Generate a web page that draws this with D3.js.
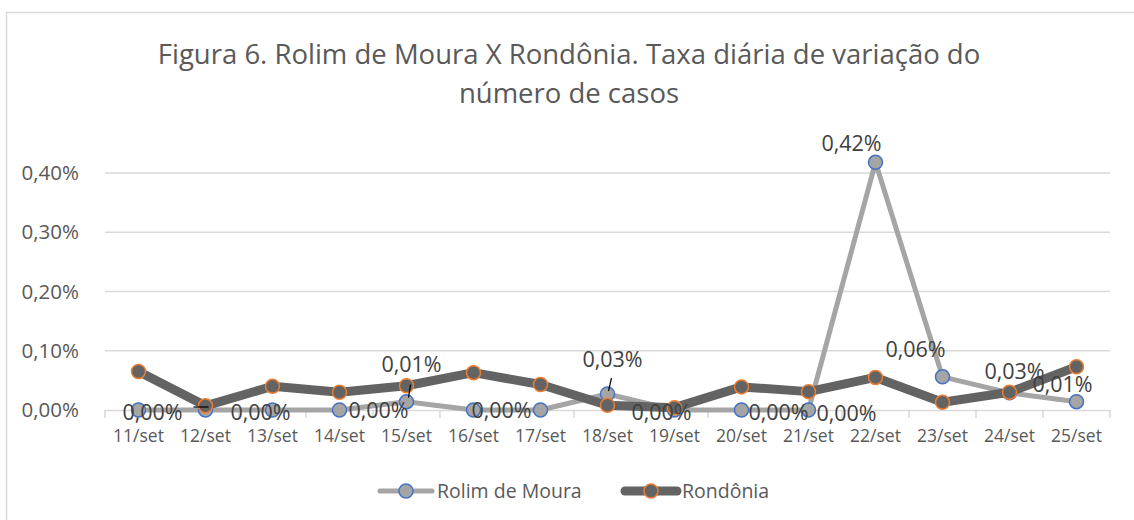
<!DOCTYPE html>
<html>
<head>
<meta charset="utf-8">
<script src="https://cdn.jsdelivr.net/npm/d3@7"></script>
<style>
  body { margin: 0; background: #fff; }
  svg text { font-family: "Open Sans", "Noto Sans", sans-serif; }
</style>
</head>
<body>
<div id="chart"></div>
<script>
// dias e taxas (em %)
const dias = ['11/set','12/set','13/set','14/set','15/set','16/set','17/set','18/set','19/set','20/set','21/set','22/set','23/set','24/set','25/set'];
const rolim = [0, 0, 0, 0, 0.014, 0, 0, 0.027, 0, 0, 0, 0.418, 0.056, 0.029, 0.014];
const rondonia = [0.065, 0.007, 0.040, 0.030, 0.041, 0.063, 0.043, 0.008, 0.004, 0.039, 0.031, 0.055, 0.013, 0.030, 0.073];
const yTicks = [0, 0.1, 0.2, 0.3, 0.4];

// label offsets (Excel labels were dragged around by hand), null = hidden
const labelPos = [
  [14, 2], null, [-12, 2], [39, 0], [5, -37], [28, 0], null, [5, -35],
  [-13, 2], [37, 2], [38, 3], [-24, -19], [-27, -27], [5, -21], [-14, -17]
];

const W = 1134, H = 520;
const x0 = 105, x1 = 1110, yBase = 410, yTop = 173;

const svg = d3.select('#chart').append('svg')
  .attr('width', W).attr('height', H);

svg.append('rect')
  .attr('x', 6.5).attr('y', 12.5)
  .attr('width', W + 10).attr('height', H + 10)
  .attr('fill', '#fff').attr('stroke', '#d9d9d9').attr('stroke-width', 1.5);

const x = d3.scaleBand().domain(dias).range([x0, x1]);
const y = d3.scaleLinear().domain([0, 0.4]).range([yBase, yTop]);
const fmt = v => v.toFixed(2).replace('.', ',') + '%';

// title
const title = svg.append('text')
  .attr('text-anchor', 'middle')
  .attr('font-size', 27.5)
  .attr('fill', '#595959');
title.append('tspan').attr('x', 569).attr('y', 64)
  .text('Figura 6. Rolim de Moura X Rondônia. Taxa diária de variação do');
title.append('tspan').attr('x', 569).attr('y', 103)
  .text('número de casos');

// gridlines
svg.append('g')
  .selectAll('line')
  .data(yTicks.slice(1))
  .join('line')
  .attr('x1', x0).attr('x2', x1)
  .attr('y1', d => y(d)).attr('y2', d => y(d))
  .attr('stroke', '#d9d9d9').attr('stroke-width', 1.5);

// y axis labels
const yAxis = svg.append('g')
  .attr('transform', `translate(${x0 - 23},0)`)
  .call(d3.axisLeft(y).tickValues(yTicks).tickFormat(fmt).tickSize(0));
yAxis.select('.domain').remove();
yAxis.selectAll('text')
  .attr('font-size', 20.5)
  .attr('fill', '#595959')
  .attr('font-family', '"Open Sans", sans-serif');

// x axis
const xAxis = svg.append('g')
  .attr('transform', `translate(0,${yBase})`)
  .call(d3.axisBottom(x).tickSize(0).tickPadding(20));
xAxis.select('.domain').attr('stroke', '#d9d9d9').attr('stroke-width', 1.5);
xAxis.selectAll('text')
  .attr('font-size', 17.5)
  .attr('fill', '#595959')
  .attr('font-family', '"Open Sans", sans-serif');
xAxis.append('g')
  .selectAll('line')
  .data(d3.range(dias.length + 1))
  .join('line')
  .attr('x1', i => x0 + i * x.step()).attr('x2', i => x0 + i * x.step())
  .attr('y1', 0).attr('y2', 8)
  .attr('stroke', '#d9d9d9').attr('stroke-width', 1.5);

const cx = i => x(dias[i]) + x.bandwidth() / 2;
const line = d3.line().x((d, i) => cx(i)).y(d => y(d));

const series = [
  {name: 'Rolim de Moura', values: rolim, color: '#a5a5a5', edge: '#4472c4', width: 5},
  {name: 'Rondônia', values: rondonia, color: '#636363', edge: '#ed7d31', width: 9}
];

series.forEach(s => {
  svg.append('path')
    .datum(s.values)
    .attr('d', line)
    .attr('fill', 'none')
    .attr('stroke', s.color)
    .attr('stroke-width', s.width)
    .attr('stroke-linejoin', 'round')
    .attr('stroke-linecap', 'round');
  svg.append('g')
    .selectAll('circle')
    .data(s.values)
    .join('circle')
    .attr('cx', (d, i) => cx(i))
    .attr('cy', d => y(d))
    .attr('r', 7)
    .attr('fill', s.color)
    .attr('stroke', s.edge)
    .attr('stroke-width', 1.5);
});

// leader lines
const leaders = [[4, 4, -17, 2, -4], [7, 4, -16, 1, -3]];
leaders.forEach(([i, dx1, dy1, dx2, dy2]) => {
  svg.append('line')
    .attr('x1', cx(i) + dx1).attr('y1', y(rolim[i]) + dy1)
    .attr('x2', cx(i) + dx2).attr('y2', y(rolim[i]) + dy2)
    .attr('stroke', '#000').attr('stroke-width', 1.2);
});
svg.append('line')
  .attr('x1', cx(1) - 12).attr('x2', cx(1) + 3)
  .attr('y1', y(0) - 3).attr('y2', y(0) - 3)
  .attr('stroke', '#000').attr('stroke-width', 1.2);

// data labels
svg.append('g')
  .selectAll('text')
  .data(rolim.map((v, i) => ({v, i, p: labelPos[i]})).filter(d => d.p))
  .join('text')
  .attr('x', d => cx(d.i) + d.p[0])
  .attr('y', d => y(d.v) + d.p[1])
  .attr('dy', '0.35em')
  .attr('text-anchor', 'middle')
  .attr('font-size', 21.5)
  .attr('fill', '#404040')
  .text(d => fmt(d.v));

// legend
const legend = svg.append('g').attr('transform', 'translate(0,491)');
const legendX = [377, 622];
series.forEach((s, k) => {
  const g = legend.append('g').attr('transform', `translate(${legendX[k]},0)`);
  g.append('line')
    .attr('x1', 3).attr('x2', 55)
    .attr('stroke', s.color).attr('stroke-width', s.width)
    .attr('stroke-linecap', 'round');
  g.append('circle')
    .attr('cx', 29).attr('r', 7)
    .attr('fill', s.color).attr('stroke', s.edge).attr('stroke-width', 1.5);
  g.append('text')
    .attr('x', 60).attr('dy', '0.35em')
    .attr('font-size', 19.5)
    .attr('fill', '#595959')
    .text(s.name);
});
</script>
</body>
</html>
